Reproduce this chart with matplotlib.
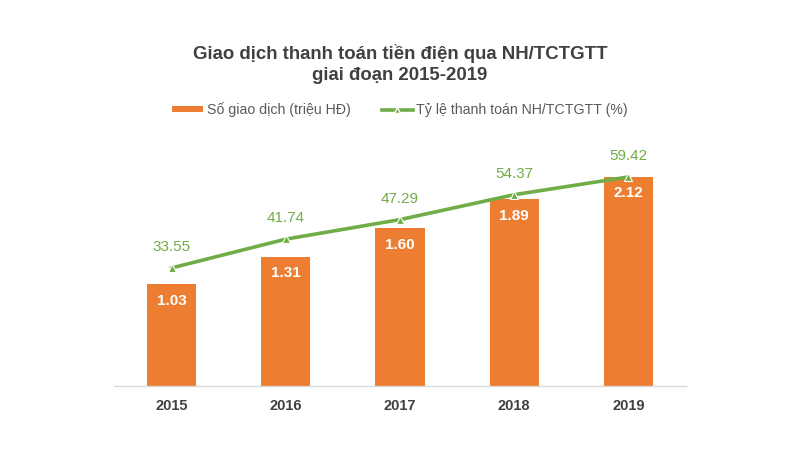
import matplotlib
matplotlib.use("Agg")
import matplotlib.pyplot as plt
from matplotlib.lines import Line2D
from matplotlib.patches import Patch

years = ["2015", "2016", "2017", "2018", "2019"]
transactions = [1.03, 1.31, 1.60, 1.89, 2.12]
ratio = [33.55, 41.74, 47.29, 54.37, 59.42]

ORANGE = "#ED7D31"
GREEN = "#70AD47"
DARK = "#404040"
FONT = ["Liberation Sans", "DejaVu Sans"]
plt.rcParams["font.family"] = FONT

fig = plt.figure(figsize=(8, 4.51), dpi=100)
ax = fig.add_axes([0.143, 0.144, 0.714, 0.5455])
x = list(range(len(years)))
ax.bar(x, transactions, width=0.43, color=ORANGE, zorder=2)
ax.set_xlim(-0.5, len(years) - 0.5)
ax.set_ylim(0, 2.49)
for s in ["top", "right", "left"]:
    ax.spines[s].set_visible(False)
ax.spines["bottom"].set_color("#D9D9D9")
ax.spines["bottom"].set_linewidth(1.0)
ax.set_yticks([])
ax.set_xticks(x)
ax.set_xticklabels(years, fontsize=10.5, fontweight="bold", color=DARK)
ax.tick_params(axis="x", length=0, pad=9)
for xi, v in zip(x, transactions):
    ax.annotate(f"{v:.2f}", (xi, v), xytext=(0, -12), textcoords="offset points",
                ha="center", va="center", color="white", fontsize=11, fontweight="bold")

ax2 = ax.twinx()
ax2.set_ylim(0, 69.9)
ax2.plot(x, ratio, color=GREEN, lw=2.6, marker="^", ms=6, mfc=GREEN, mec="white",
         mew=0.8, zorder=3)
ax2.set_yticks([])
for s in ["top", "right", "left", "bottom"]:
    ax2.spines[s].set_visible(False)
for xi, v in zip(x, ratio):
    ax2.annotate(f"{v:.2f}", (xi, v), xytext=(0, 15), textcoords="offset points",
                 ha="center", va="center", color=GREEN, fontsize=11)

fig.text(0.5, 0.858, "Giao dịch thanh toán tiền điện qua NH/TCTGTT\ngiai đoạn 2015-2019",
         ha="center", va="center", fontsize=13.4, fontweight="bold", color=DARK,
         linespacing=1.25)

handles = [Patch(facecolor=ORANGE, edgecolor="none"),
           Line2D([0], [0], color=GREEN, lw=2.6, marker="^", ms=5, mfc=GREEN, mec="white")]
labels = ["Số giao dịch (triệu HĐ)", "Tỷ lệ thanh toán NH/TCTGTT (%)"]
fig.legend(handles, labels, loc="center", bbox_to_anchor=(0.5, 0.757), ncol=2,
           frameon=False, fontsize=10.2, labelcolor="#595959", handlelength=2.2,
           handleheight=0.3, handletextpad=0.25, columnspacing=2.2)

fig.savefig("out.png", dpi=100, facecolor="white")
